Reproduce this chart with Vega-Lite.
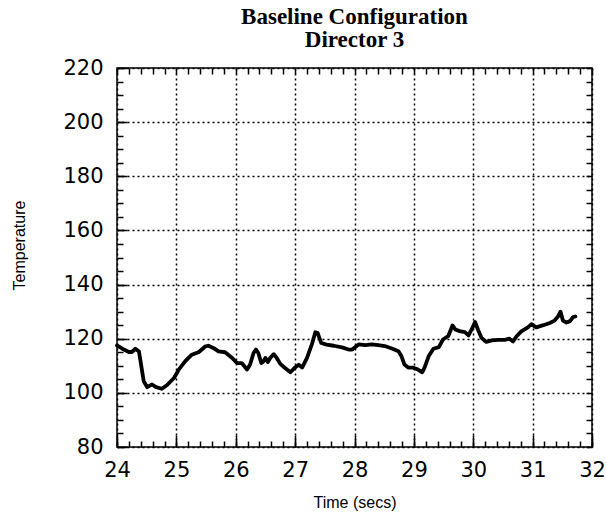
{
  "$schema": "https://vega.github.io/schema/vega-lite/v6.json",
  "width": 475,
  "height": 379,
  "autosize": "none",
  "padding": {"left": 117, "top": 68, "right": 14, "bottom": 67},
  "background": "white",
  "title": {
    "text": ["Baseline Configuration", "Director 3"],
    "font": "Liberation Serif",
    "fontSize": 23,
    "fontWeight": "bold",
    "lineHeight": 23,
    "color": "black",
    "anchor": "middle",
    "offset": 5
  },
  "config": {
    "view": {"stroke": "black", "strokeWidth": 1.5},
    "axis": {
      "domain": false,
      "tickColor": "black",
      "tickWidth": 1.5,
      "gridColor": "black",
      "gridWidth": 1.5,
      "gridDash": [2, 3],
      "gridOpacity": 1,
      "labelColor": "black",
      "titleColor": "black",
      "labelFlush": false,
      "labelOverlap": false,
      "labelBound": false
    }
  },
  "data": {
    "values": [
      {"t": 24.00, "temp": 117.5}, {"t": 24.09, "temp": 116.3}, {"t": 24.20, "temp": 115.1}, {"t": 24.25, "temp": 115.1},
      {"t": 24.31, "temp": 116.3}, {"t": 24.37, "temp": 115.3}, {"t": 24.41, "temp": 109.8}, {"t": 24.45, "temp": 104.3},
      {"t": 24.51, "temp": 102.1}, {"t": 24.59, "temp": 103.1}, {"t": 24.65, "temp": 102.2}, {"t": 24.75, "temp": 101.5},
      {"t": 24.84, "temp": 102.8}, {"t": 24.96, "temp": 105.5}, {"t": 25.04, "temp": 108.6}, {"t": 25.15, "temp": 111.7},
      {"t": 25.26, "temp": 114.1}, {"t": 25.38, "temp": 115.1}, {"t": 25.49, "temp": 117.2}, {"t": 25.54, "temp": 117.4},
      {"t": 25.63, "temp": 116.5}, {"t": 25.71, "temp": 115.3}, {"t": 25.82, "temp": 115.0}, {"t": 25.94, "temp": 112.9},
      {"t": 26.02, "temp": 111.0}, {"t": 26.10, "temp": 111.0}, {"t": 26.19, "temp": 108.6}, {"t": 26.24, "temp": 110.4},
      {"t": 26.30, "temp": 114.7}, {"t": 26.34, "temp": 116.0}, {"t": 26.38, "temp": 114.7}, {"t": 26.43, "temp": 111.0},
      {"t": 26.47, "temp": 111.7}, {"t": 26.50, "temp": 112.9}, {"t": 26.54, "temp": 111.4}, {"t": 26.58, "temp": 112.9},
      {"t": 26.64, "temp": 114.3}, {"t": 26.69, "temp": 112.9}, {"t": 26.75, "temp": 110.7}, {"t": 26.83, "temp": 109.2},
      {"t": 26.92, "temp": 107.6}, {"t": 27.00, "temp": 109.4}, {"t": 27.06, "temp": 110.4}, {"t": 27.12, "temp": 109.4},
      {"t": 27.20, "temp": 112.9}, {"t": 27.28, "temp": 117.8}, {"t": 27.34, "temp": 122.4}, {"t": 27.38, "temp": 122.1},
      {"t": 27.44, "temp": 118.4}, {"t": 27.53, "temp": 117.8}, {"t": 27.65, "temp": 117.4}, {"t": 27.79, "temp": 116.8},
      {"t": 27.90, "temp": 116.0}, {"t": 27.96, "temp": 116.0}, {"t": 28.07, "temp": 117.9}, {"t": 28.18, "temp": 117.6},
      {"t": 28.29, "temp": 117.9}, {"t": 28.40, "temp": 117.6}, {"t": 28.51, "temp": 117.3}, {"t": 28.63, "temp": 116.4},
      {"t": 28.74, "temp": 115.4}, {"t": 28.79, "temp": 113.6}, {"t": 28.84, "temp": 110.5}, {"t": 28.91, "temp": 109.3},
      {"t": 28.99, "temp": 109.3}, {"t": 29.07, "temp": 108.6}, {"t": 29.14, "temp": 107.6}, {"t": 29.18, "temp": 109.3},
      {"t": 29.25, "temp": 113.6}, {"t": 29.33, "temp": 116.3}, {"t": 29.42, "temp": 116.9}, {"t": 29.49, "temp": 119.7},
      {"t": 29.58, "temp": 121.0}, {"t": 29.65, "temp": 124.9}, {"t": 29.70, "temp": 123.4}, {"t": 29.77, "temp": 122.8},
      {"t": 29.86, "temp": 122.4}, {"t": 29.92, "temp": 121.2}, {"t": 29.98, "temp": 123.7}, {"t": 30.03, "temp": 126.2},
      {"t": 30.08, "temp": 123.3}, {"t": 30.14, "temp": 120.3}, {"t": 30.22, "temp": 118.8}, {"t": 30.31, "temp": 119.4},
      {"t": 30.42, "temp": 119.6}, {"t": 30.53, "temp": 119.6}, {"t": 30.61, "temp": 120.0}, {"t": 30.67, "temp": 119.0},
      {"t": 30.73, "temp": 120.9}, {"t": 30.81, "temp": 122.7}, {"t": 30.92, "temp": 124.2}, {"t": 30.98, "temp": 125.4},
      {"t": 31.06, "temp": 124.2}, {"t": 31.18, "temp": 125.0}, {"t": 31.29, "temp": 125.8}, {"t": 31.37, "temp": 126.7},
      {"t": 31.43, "temp": 128.3}, {"t": 31.47, "temp": 130.0}, {"t": 31.51, "temp": 126.7}, {"t": 31.57, "temp": 126.0},
      {"t": 31.63, "temp": 126.5}, {"t": 31.68, "temp": 128.0}, {"t": 31.72, "temp": 128.2}
    ]
  },
  "resolve": {"axis": {"x": "independent", "y": "independent"}},
  "layer": [
    {
      "mark": {"type": "line", "color": "black", "strokeWidth": 3.8, "strokeJoin": "round", "strokeCap": "round"},
      "encoding": {
        "x": {
          "field": "t", "type": "quantitative",
          "scale": {"domain": [24, 32], "nice": false, "zero": false},
          "axis": {
            "orient": "bottom",
            "values": [24, 25, 26, 27, 28, 29, 30, 31, 32],
            "tickSize": -12,
            "grid": true,
            "format": "d",
            "labelFont": "DejaVu Sans",
            "labelFontSize": 21,
            "labelPadding": 24,
            "labelBaseline": "top",
            "title": "Time (secs)",
            "titleFont": "Liberation Sans",
            "titleFontSize": 16,
            "titleFontWeight": "normal",
            "titleBaseline": "alphabetic",
            "titleY": 60
          }
        },
        "y": {
          "field": "temp", "type": "quantitative",
          "scale": {"domain": [80, 220], "nice": false, "zero": false},
          "axis": {
            "orient": "left",
            "values": [80, 100, 120, 140, 160, 180, 200, 220],
            "tickSize": -10,
            "grid": true,
            "format": "d",
            "labelFont": "DejaVu Sans",
            "labelFontSize": 21,
            "labelPadding": 24,
            "title": "Temperature",
            "titleFont": "Liberation Sans",
            "titleFontSize": 16,
            "titleFontWeight": "normal",
            "titleBaseline": "alphabetic",
            "titleX": -93,
            "titleY": 177
          }
        }
      }
    },
    {
      "mark": {"type": "line", "strokeOpacity": 0},
      "encoding": {
        "x": {
          "field": "t", "type": "quantitative",
          "axis": {
            "orient": "bottom",
            "values": [24, 24.2, 24.4, 24.6, 24.8, 25, 25.2, 25.4, 25.6, 25.8, 26, 26.2, 26.4, 26.6, 26.8, 27, 27.2, 27.4, 27.6, 27.8, 28, 28.2, 28.4, 28.6, 28.8, 29, 29.2, 29.4, 29.6, 29.8, 30, 30.2, 30.4, 30.6, 30.8, 31, 31.2, 31.4, 31.6, 31.8, 32],
            "tickSize": -6,
            "grid": false,
            "labels": false,
            "title": null
          }
        },
        "y": {
          "field": "temp", "type": "quantitative",
          "axis": {
            "orient": "left",
            "values": [80, 85, 90, 95, 100, 105, 110, 115, 120, 125, 130, 135, 140, 145, 150, 155, 160, 165, 170, 175, 180, 185, 190, 195, 200, 205, 210, 215, 220],
            "tickSize": -6,
            "grid": false,
            "labels": false,
            "title": null
          }
        }
      }
    },
    {
      "mark": {"type": "line", "strokeOpacity": 0},
      "encoding": {
        "x": {
          "field": "t", "type": "quantitative",
          "axis": {
            "orient": "top",
            "values": [24, 24.2, 24.4, 24.6, 24.8, 25, 25.2, 25.4, 25.6, 25.8, 26, 26.2, 26.4, 26.6, 26.8, 27, 27.2, 27.4, 27.6, 27.8, 28, 28.2, 28.4, 28.6, 28.8, 29, 29.2, 29.4, 29.6, 29.8, 30, 30.2, 30.4, 30.6, 30.8, 31, 31.2, 31.4, 31.6, 31.8, 32],
            "tickSize": -6,
            "grid": false,
            "labels": false,
            "title": null
          }
        },
        "y": {
          "field": "temp", "type": "quantitative",
          "axis": {
            "orient": "right",
            "values": [80, 85, 90, 95, 100, 105, 110, 115, 120, 125, 130, 135, 140, 145, 150, 155, 160, 165, 170, 175, 180, 185, 190, 195, 200, 205, 210, 215, 220],
            "tickSize": -6,
            "grid": false,
            "labels": false,
            "title": null
          }
        }
      }
    }
  ]
}
